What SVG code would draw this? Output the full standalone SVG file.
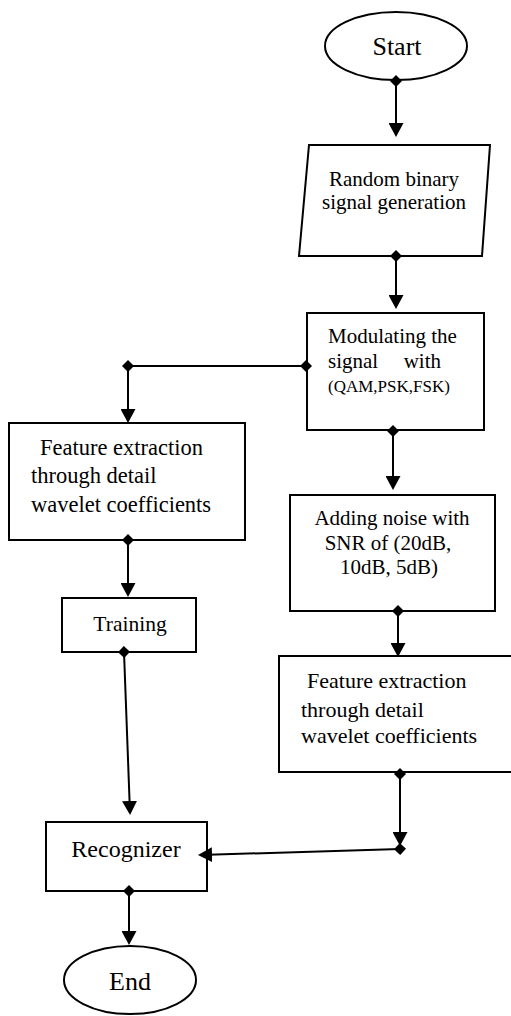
<svg xmlns="http://www.w3.org/2000/svg" width="511" height="1016" viewBox="0 0 511 1016">
<style>
.s{fill:#fff;stroke:#000;stroke-width:2}
.t{font-family:"Liberation Serif","Times New Roman",serif;fill:#000}
.c{fill:none;stroke:#000;stroke-width:2}
.a{marker-end:url(#arr)}
.d{marker-start:url(#dia)}
.de{marker-end:url(#dia)}
</style>
<defs>
<marker id="arr" viewBox="0 0 14 15" refX="12" refY="7.5" markerWidth="14" markerHeight="15" orient="auto" markerUnits="userSpaceOnUse"><path d="M0,0 L14,7.5 L0,15 z" fill="#000"/></marker>
<marker id="dia" viewBox="0 0 12 12" refX="6" refY="6" markerWidth="12" markerHeight="12" orient="auto" markerUnits="userSpaceOnUse"><path d="M0,6 L6,0 L12,6 L6,12 z" fill="#000"/></marker>
</defs>
<rect width="511" height="1016" fill="#fff"/>
<g id="start">
<ellipse class="s" cx="396" cy="46" rx="71" ry="34"/>
<text class="t" x="397" y="55" font-size="26" text-anchor="middle">Start</text>
</g>
<g id="random">
<path class="s" d="M309,145 H490 L482,256 H299 Z"/>
<text class="t" x="394" y="186" font-size="21" text-anchor="middle">Random binary</text>
<text class="t" x="394" y="209" font-size="21" text-anchor="middle">signal generation</text>
</g>
<g id="modulate">
<rect class="s" x="307" y="313" width="177" height="117"/>
<text class="t" x="328" y="343" font-size="21">Modulating the</text>
<text class="t" x="328" y="368" font-size="21">signal</text>
<text class="t" x="441" y="368" font-size="21" text-anchor="end">with</text>
<text class="t" x="328" y="392" font-size="17">(QAM,PSK,FSK)</text>
</g>
<g id="feature-left">
<rect class="s" x="9" y="423" width="236" height="117"/>
<text class="t" x="40" y="455" font-size="22.5">Feature extraction</text>
<text class="t" x="31" y="483" font-size="22.5">through detail</text>
<text class="t" x="31" y="512" font-size="22.5">wavelet coefficients</text>
</g>
<g id="training">
<rect class="s" x="62" y="598" width="134" height="54"/>
<text class="t" x="130" y="631" font-size="21.5" text-anchor="middle">Training</text>
</g>
<g id="noise">
<rect class="s" x="290" y="495" width="205" height="116"/>
<text class="t" x="392" y="525" font-size="21" text-anchor="middle">Adding noise with</text>
<text class="t" x="388" y="550" font-size="21" text-anchor="middle">SNR of (20dB,</text>
<text class="t" x="389" y="574" font-size="21" text-anchor="middle">10dB, 5dB)</text>
</g>
<g id="feature-right">
<rect class="s" x="279" y="656" width="234" height="116"/>
<text class="t" x="307" y="688" font-size="22">Feature extraction</text>
<text class="t" x="301" y="717" font-size="22">through detail</text>
<text class="t" x="301" y="743" font-size="22">wavelet coefficients</text>
</g>
<g id="recognizer">
<rect class="s" x="46" y="822" width="161" height="69"/>
<text class="t" x="126" y="857" font-size="24" text-anchor="middle">Recognizer</text>
</g>
<g id="end">
<ellipse class="s" cx="130" cy="980" rx="66" ry="34"/>
<text class="t" x="130" y="990" font-size="26" text-anchor="middle">End</text>
</g>
<g id="connectors">
<path class="c d a" d="M396,81 V135"/>
<path class="c d a" d="M396,256 V307"/>
<path class="c d de" d="M306,366 H128"/>
<path class="c a" d="M128,366 V421"/>
<path class="c d a" d="M128,540 V595"/>
<path class="c d a" d="M393,431 V488"/>
<path class="c d a" d="M398,611 V655"/>
<path class="c d a" d="M124,652 L130,813"/>
<path class="c d a" d="M400,774 V844"/>
<path class="c d a" d="M400,849 L200,855"/>
<path class="c d a" d="M129,891 V943"/>
</g>
</svg>
